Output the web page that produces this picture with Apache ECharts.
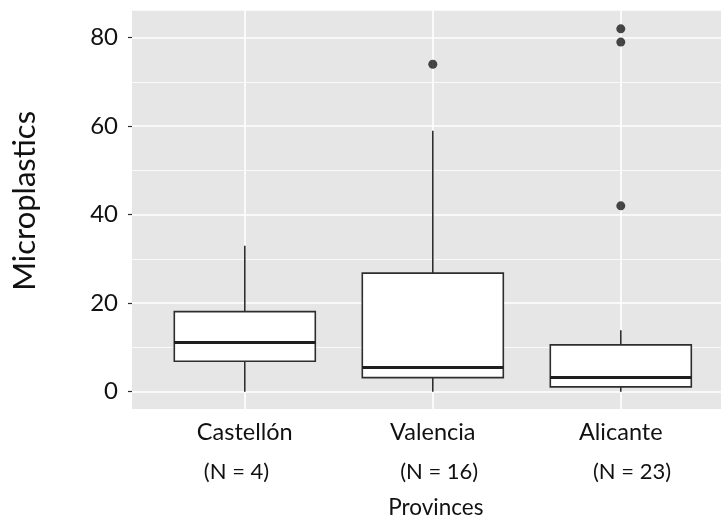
<!DOCTYPE html>
<html><head><meta charset="utf-8">
<script src="https://cdn.jsdelivr.net/npm/echarts@6/dist/echarts.min.js"></script>
<style>html,body{margin:0;padding:0;background:#fff}#c{width:721px;height:519px}</style>
</head><body><div id="c"></div>
<script>
// ---- data ----
const provinces = ['Castellón', 'Valencia', 'Alicante'];
const sampleSizes = ['(N = 4)', '(N = 16)', '(N = 23)'];
const boxMin = [0, 0, 0];
const boxQ1 = [6.9, 3.2, 1.1];
const boxMedian = [11.1, 5.5, 3.2];
const boxQ3 = [18.1, 26.8, 10.6];
const boxMax = [33, 59, 13.9];
const outlierProvince = ['Valencia', 'Alicante', 'Alicante', 'Alicante'];
const outlierValues = [74, 82, 79, 42];
const yTicks = [0, 20, 40, 60, 80];
const yMinorTicks = [10, 30, 50, 70];

// ---- build ----
const catPos = provinces.map((p, i) => i + 1);
const boxData = provinces.map((p, i) => [catPos[i], boxMin[i], boxQ1[i], boxMedian[i], boxQ3[i], boxMax[i]]);
const outlierData = outlierProvince.map((p, i) => [catPos[provinces.indexOf(p)], outlierValues[i]]);

const FONT = 'Lato';
const STROKE = '#2e2e2e';
const TEXT = '#111111';

function renderBox(params, api) {
  const x = api.value(0);
  const mn = api.coord([x, api.value(1)]);
  const q1 = api.coord([x, api.value(2)]);
  const md = api.coord([x, api.value(3)]);
  const q3 = api.coord([x, api.value(4)]);
  const mx = api.coord([x, api.value(5)]);
  const half = api.size([0.75, 0])[0] / 2;
  return {
    type: 'group',
    children: [
      { type: 'line', shape: { x1: mn[0], y1: mn[1], x2: q1[0], y2: q1[1] }, style: { stroke: STROKE, lineWidth: 1.6 } },
      { type: 'line', shape: { x1: q3[0], y1: q3[1], x2: mx[0], y2: mx[1] }, style: { stroke: STROKE, lineWidth: 1.6 } },
      { type: 'rect', shape: { x: q3[0] - half, y: q3[1], width: half * 2, height: q1[1] - q3[1] },
        style: { fill: '#ffffff', stroke: STROKE, lineWidth: 1.6 } },
      { type: 'line', shape: { x1: md[0] - half, y1: md[1], x2: md[0] + half, y2: md[1] },
        style: { stroke: '#1e1e1e', lineWidth: 3 } }
    ]
  };
}

const nPad = [[0, 16.6, 0, 0], [0, 0, 0, 12.8], [0, 0, 0, 22.4]];
const rich = { p: { fontFamily: FONT, fontSize: 23.5, color: TEXT, lineHeight: 40 } };
sampleSizes.forEach((s, i) => {
  rich['n' + i] = { fontFamily: FONT, fontSize: 22, color: TEXT, lineHeight: 40, padding: nPad[i] };
});

const gridLines = []
  .concat(yTicks.map(v => ({ yAxis: v, lineStyle: { width: 1.6 } })))
  .concat(yMinorTicks.map(v => ({ yAxis: v, lineStyle: { width: 0.8 } })))
  .concat(catPos.map(v => ({ xAxis: v, lineStyle: { width: 1.6 } })));

const chart = echarts.init(document.getElementById('c'), null, { renderer: 'canvas' });
chart.setOption({
  animation: false,
  backgroundColor: '#ffffff',
  textStyle: { fontFamily: FONT },
  grid: { left: 132, top: 10.7, width: 601.6, height: 398.3, outerBoundsMode: 'none', containLabel: false,
          show: true, backgroundColor: '#E6E6E6', borderWidth: 0 },
  xAxis: {
    type: 'value', min: 0.4, max: 3.6,
    axisLine: { show: false }, axisTick: { show: false }, splitLine: { show: false },
    axisLabel: {
      customValues: catPos, margin: 3, interval: 0,
      formatter: v => {
        const i = Math.round(v) - 1;
        return '{p|' + provinces[i] + '}\n{n' + i + '|' + sampleSizes[i] + '}';
      },
      rich: rich
    },
    name: 'Provinces', nameLocation: 'middle', nameGap: 87,
    nameTextStyle: { fontFamily: FONT, fontSize: 22.5, color: TEXT, padding: [0, 0, 0, 6] }
  },
  yAxis: {
    type: 'value', min: -3.9, max: 86.1,
    axisLine: { show: false },
    splitLine: { show: false },
    axisTick: { show: true, customValues: yTicks, length: 4, lineStyle: { color: STROKE, width: 1.2 } },
    axisLabel: { customValues: yTicks, margin: 14, fontFamily: FONT, fontSize: 24, color: TEXT },
    name: 'Microplastics', nameLocation: 'middle', nameGap: 92,
    nameTextStyle: { fontFamily: FONT, fontSize: 31, color: '#111', padding: [0, 0, 0, 18] }
  },
  series: [
    {
      type: 'line', data: [], z: 1, silent: true,
      markLine: {
        z: 1, silent: true, symbol: ['none', 'none'], label: { show: false },
        lineStyle: { color: '#ffffff', type: 'solid' }, animation: false,
        data: gridLines
      }
    },
    {
      type: 'custom', z: 2, renderItem: renderBox, data: boxData,
      encode: { x: 0, y: [1, 2, 3, 4, 5] }
    },
    {
      type: 'scatter', z: 3, data: outlierData, symbolSize: 9, clip: false,
      itemStyle: { color: '#1a1a1a' }
    }
  ]
});
</script>
</body></html>
